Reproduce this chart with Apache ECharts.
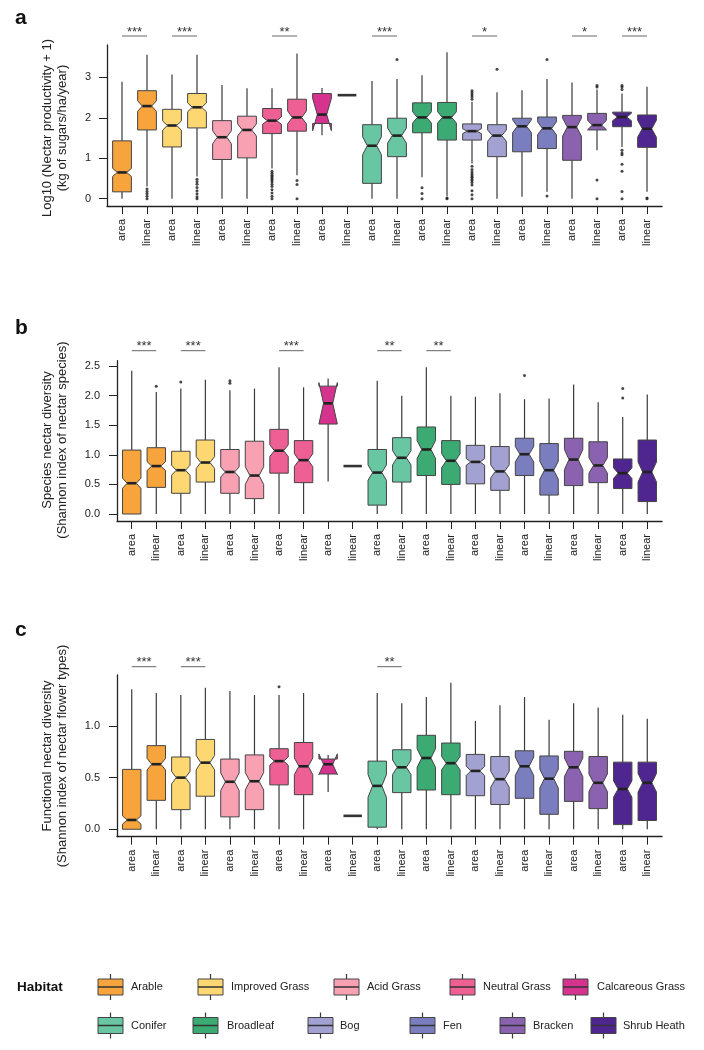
<!DOCTYPE html>
<html><head><meta charset="utf-8">
<script src="https://cdn.jsdelivr.net/npm/echarts@6/dist/echarts.min.js"></script>
<style>html,body{margin:0;padding:0;background:#fff}#c{width:704px;height:1050px}</style>
</head><body><div id="c"></div>
<script>
// ---------------- DATA ----------------
const habitats = ['Arable','Improved Grass','Acid Grass','Neutral Grass','Calcareous Grass','Conifer','Broadleaf','Bog','Fen','Bracken','Shrub Heath'];
const habitatColors = ['#F7A43C','#FDD872','#F8A1B3','#EE5F93','#D6338F','#68C6A2','#3BAB73','#A3A1D1','#7B7EBE','#8B62AF','#4F2590'];
const xLabels = ['area','linear','area','linear','area','linear','area','linear','area','linear','area','linear',
                 'area','linear','area','linear','area','linear','area','linear','area','linear'];

// Panel a: Log10 (Nectar productivity + 1)
const aLow   = [0,0.30,0,0.55,0,0,0.75,0.58,1.57,2.56,0,0,0.53,0.06,0.87,0,0.05,0.17,0,1.20,1.28,0.17];
const aQ1    = [0.17,1.70,1.28,1.75,0.97,1.01,1.61,1.67,1.86,2.56,0.38,1.04,1.63,1.45,1.45,1.04,1.16,1.24,0.95,1.70,1.78,1.27];
const aMed   = [0.65,2.29,1.81,2.26,1.52,1.70,1.93,2.01,2.08,2.56,1.31,1.56,2.01,2.01,1.67,1.56,1.79,1.74,1.77,1.82,2.02,1.73];
const aQ3    = [1.43,2.67,2.21,2.60,1.93,2.04,2.23,2.46,2.60,2.56,1.83,1.99,2.37,2.38,1.85,1.83,1.99,2.02,2.06,2.11,2.14,2.07];
const aHigh  = [2.89,3.56,3.07,3.56,2.81,2.73,2.73,3.59,2.74,2.56,2.91,2.96,3.05,3.62,2.40,2.63,2.68,2.96,2.87,2.70,2.60,2.77];
const aNotch = [0.10,0.13,0.115,0.11,0.16,0.15,0.09,0.16,0.40,0,0.22,0.185,0.14,0.14,0.06,0.14,0.16,0.16,0.22,0.115,0.09,0.21];
const aOutliers = [[2,0.24],[2,0.18],[2,0.12],[2,0.06],[2,0],
  [4,0.48],[4,0.42],[4,0.36],[4,0.28],[4,0.2],[4,0.12],[4,0.05],[4,0],
  [7,0.68],[7,0.63],[7,0.58],[7,0.54],[7,0.5],[7,0.46],[7,0.42],[7,0.36],[7,0.3],[7,0.22],[7,0.14],[7,0.06],[7,0],
  [8,0.45],[8,0.35],[8,0],
  [12,3.44],[13,0.27],[13,0.13],[13,0],[14,0.02],[14,0],
  [15,2.46],[15,2.52],[15,2.57],[15,2.62],[15,2.67],
  [15,0.8],[15,0.72],[15,0.66],[15,0.61],[15,0.57],[15,0.53],[15,0.49],[15,0.45],[15,0.4],[15,0.34],[15,0.2],[15,0.1],[15,0],
  [16,3.20],[18,3.44],[18,0.07],
  [20,2.76],[20,2.8],[20,0.46],[20,0],
  [21,2.7],[21,2.76],[21,2.8],[21,1.2],[21,1.13],[21,1.09],[21,0.85],[21,0.68],[21,0.18],[21,0],
  [22,0.02],[22,0]];
const aSigPairs  = [1,2,4,6,8,10,11];
const aSigLabels = ['***','***','**','***','*','*','***'];
const aTicks = [0,1,2,3];
const aTickLabels = ['0','1','2','3'];

// Panel b: Species nectar diversity
const bLow   = [0,0,0,0,0,0,0,0,0.55,0.81,0,0,0,0,0,0,0,0,0,0,0,0];
const bQ1    = [0,0.45,0.35,0.54,0.35,0.26,0.69,0.53,1.52,0.81,0.15,0.54,0.65,0.50,0.51,0.40,0.65,0.32,0.48,0.53,0.43,0.21];
const bMed   = [0.52,0.81,0.74,0.87,0.71,0.65,1.07,0.91,1.87,0.81,0.70,0.95,1.09,0.90,0.88,0.72,1.01,0.74,0.92,0.82,0.69,0.71];
const bQ3    = [1.08,1.12,1.06,1.25,1.09,1.23,1.43,1.24,2.16,0.81,1.09,1.29,1.47,1.24,1.16,1.14,1.28,1.19,1.28,1.22,0.93,1.25];
const bHigh  = [2.42,2.06,2.12,2.27,2.09,2.12,2.48,2.14,2.29,0.81,2.25,2.00,2.48,2.00,1.98,2.04,1.94,1.95,2.19,1.89,1.64,2.02];
const bNotch = [0.085,0.075,0.085,0.10,0.085,0.15,0.10,0.11,0.35,0,0.13,0.12,0.15,0.12,0.056,0.11,0.13,0.15,0.17,0.13,0.09,0.17];
const bOutliers = [[2,2.16],[3,2.23],[5,2.21],[5,2.25],[17,2.34],[21,1.96],[21,2.12]];
const bSigPairs  = [1,2,4,6,7];
const bSigLabels = ['***','***','***','**','**'];
const bTicks = [0,0.5,1,1.5,2,2.5];
const bTickLabels = ['0.0','0.5','1.0','1.5','2.0','2.5'];

// Panel c: Functional nectar diversity
const cLow   = [0,0,0,0,0,0,0,0,0.36,0.13,0,0,0,0,0,0,0,0,0,0,0,0];
const cQ1    = [0,0.28,0.19,0.32,0.12,0.19,0.43,0.335,0.535,0.13,0.02,0.355,0.38,0.335,0.325,0.24,0.30,0.145,0.27,0.20,0.045,0.085];
const cMed   = [0.09,0.63,0.50,0.645,0.46,0.465,0.66,0.61,0.63,0.13,0.42,0.60,0.69,0.64,0.565,0.485,0.61,0.49,0.60,0.45,0.39,0.45];
const cQ3    = [0.58,0.81,0.70,0.87,0.68,0.72,0.78,0.84,0.68,0.13,0.66,0.77,0.91,0.835,0.725,0.705,0.76,0.71,0.755,0.705,0.65,0.65];
const cHigh  = [1.355,1.32,1.30,1.37,1.34,1.30,1.30,1.32,0.72,0.13,1.32,1.22,1.28,1.42,1.05,1.20,1.28,1.06,1.22,1.18,1.11,1.07];
const cNotch = [0.04,0.056,0.06,0.07,0.085,0.085,0.04,0.08,0.10,0,0.11,0.07,0.09,0.065,0.045,0.077,0.09,0.09,0.09,0.085,0.08,0.09];
const cOutliers = [[7,1.38]];
const cSigPairs  = [1,2,6];
const cSigLabels = ['***','***','**'];
const cTicks = [0,0.5,1];
const cTickLabels = ['0.0','0.5','1.0'];

// ---------------- LAYOUT ----------------
const FONT = '"Liberation Sans", Arial, Helvetica, sans-serif';
const panels = [
  {low:aLow,q1:aQ1,med:aMed,q3:aQ3,high:aHigh,notch:aNotch,out:aOutliers,sig:aSigPairs,sigL:aSigLabels,
   ticks:aTicks,tickL:aTickLabels,min:-0.18,max:3.8,top:45,height:161,left:107,labelMargin:16,sigGap:9,
   title:['Log10 (Nectar productivity + 1)','(kg of sugars/ha/year)'],titleY:128,letter:'a',letterY:18.5},
  {low:bLow,q1:bQ1,med:bMed,q3:bQ3,high:bHigh,notch:bNotch,out:bOutliers,sig:bSigPairs,sigL:bSigLabels,
   ticks:bTicks,tickL:bTickLabels,min:-0.118,max:2.59,top:360.7,height:160.3,left:117,labelMargin:17,sigGap:10,
   title:['Species nectar diversity','(Shannon index of nectar species)'],titleY:440,letter:'b',letterY:328.5},
  {low:cLow,q1:cQ1,med:cMed,q3:cQ3,high:cHigh,notch:cNotch,out:cOutliers,sig:cSigPairs,sigL:cSigLabels,
   ticks:cTicks,tickL:cTickLabels,min:-0.072,max:1.494,top:675,height:161.7,left:117,labelMargin:17,sigGap:8.3,
   title:['Functional nectar diversity','(Shannon index of nectar flower types)'],titleY:756,letter:'c',letterY:630.5}
];
const xPos = xLabels.map((_, i) => i + 1);

const grids = [], xAxes = [], yAxes = [], series = [], graphics = [];

panels.forEach((p, k) => {
  grids.push({left: p.left, right: 42, top: p.top, height: p.height, outerBoundsMode: 'none', containLabel: false});
  xAxes.push({
    type: 'value', gridIndex: k, min: 0.4, max: 22.6, splitLine: {show: false},
    axisLine: {show: true, onZero: false, lineStyle: {color: '#222', width: 1.3}},
    axisTick: {show: true, customValues: xPos, length: 8, lineStyle: {color: '#222', width: 1}},
    axisLabel: {show: true, customValues: xPos, rotate: 90, margin: 13, fontSize: 11, color: '#222', fontFamily: FONT,
      formatter: v => xLabels[Math.round(v) - 1]}
  });
  yAxes.push({
    type: 'value', gridIndex: k, min: p.min, max: p.max, splitLine: {show: false},
    axisLine: {show: true, onZero: false, lineStyle: {color: '#222', width: 1.3}},
    axisTick: {show: true, customValues: p.ticks, length: 8, lineStyle: {color: '#222', width: 1}},
    axisLabel: {show: true, customValues: p.ticks, margin: p.labelMargin, fontSize: 11, color: '#222', fontFamily: FONT,
      formatter: v => p.tickL[p.ticks.findIndex(t => Math.abs(t - v) < 1e-6)]}
  });

  const boxData = p.med.map((m, i) => [i + 1, p.low[i], p.q1[i], m, p.q3[i], p.high[i], p.notch[i]]);
  series.push({
    type: 'custom', xAxisIndex: k, yAxisIndex: k, silent: true, clip: false,
    encode: {x: 0, y: [1, 2, 3, 4, 5]},
    data: boxData,
    renderItem: (params, api) => {
      const i = api.value(0), low = api.value(1), q1 = api.value(2), med = api.value(3),
            q3 = api.value(4), high = api.value(5), nh = api.value(6);
      const band = api.size([1, 0])[0];
      const bw = band * 0.75;
      const cx = api.coord([i, med])[0];
      const Y = v => api.coord([i, v])[1];
      const L = cx - bw / 2, R = cx + bw / 2, iL = cx - bw / 4, iR = cx + bw / 4;
      const color = habitatColors[Math.floor((i - 1) / 2)];
      const ch = [];
      const wStyle = {stroke: '#3a3a3a', lineWidth: 1.2};
      if (high > q3) ch.push({type: 'line', shape: {x1: cx, y1: Y(q3), x2: cx, y2: Y(high)}, style: wStyle});
      if (low < q1) ch.push({type: 'line', shape: {x1: cx, y1: Y(q1), x2: cx, y2: Y(low)}, style: wStyle});
      if (q3 > q1) {
        let pts;
        if (nh > 0) {
          pts = [[L, Y(q1)], [L, Y(med - nh)], [iL, Y(med)], [L, Y(med + nh)], [L, Y(q3)],
                 [R, Y(q3)], [R, Y(med + nh)], [iR, Y(med)], [R, Y(med - nh)], [R, Y(q1)]];
        } else {
          pts = [[L, Y(q1)], [L, Y(q3)], [R, Y(q3)], [R, Y(q1)]];
        }
        ch.push({type: 'polygon', shape: {points: pts}, style: {fill: color, stroke: '#444', lineWidth: 1}});
        const mL = nh > 0 ? iL : L, mR = nh > 0 ? iR : R;
        ch.push({type: 'line', shape: {x1: mL, y1: Y(med), x2: mR, y2: Y(med)}, style: {stroke: '#222', lineWidth: 2.6}});
      } else {
        ch.push({type: 'line', shape: {x1: L, y1: Y(med), x2: R, y2: Y(med)}, style: {stroke: '#333', lineWidth: 2.6}});
      }
      return {type: 'group', children: ch};
    }
  });

  series.push({
    type: 'scatter', xAxisIndex: k, yAxisIndex: k, silent: true,
    symbol: 'circle', symbolSize: 3, itemStyle: {color: '#1a1a1a'},
    data: p.out.map(o => [o[0], o[1]])
  });

  series.push({
    type: 'custom', xAxisIndex: k, yAxisIndex: k, silent: true, clip: false,
    encode: {x: 0, y: 1},
    data: p.sig.map(h => [2 * h - 1, p.max]),
    renderItem: (params, api) => {
      const i = api.value(0);
      const a = api.coord([i, p.max]), b = api.coord([i + 1, p.max]);
      const y = a[1] - p.sigGap;
      return {type: 'group', children: [
        {type: 'line', shape: {x1: a[0], y1: y, x2: b[0], y2: y}, style: {stroke: '#666', lineWidth: 1}},
        {type: 'text', x: (a[0] + b[0]) / 2, y: y - 4,
         style: {text: p.sigL[params.dataIndex], fill: '#333', fontSize: 13, fontFamily: FONT, align: 'center', verticalAlign: 'middle'}}
      ]};
    }
  });

  graphics.push({type: 'text', x: 15, y: p.letterY,
    style: {text: p.letter, fill: '#111', fontSize: 21, fontWeight: 'bold', fontFamily: FONT, align: 'left', verticalAlign: 'middle'}});
  graphics.push({type: 'text', x: 47, y: p.titleY, rotation: Math.PI / 2,
    style: {text: p.title[0], fill: '#222', fontSize: 13, fontFamily: FONT, align: 'center', verticalAlign: 'middle'}});
  graphics.push({type: 'text', x: 62, y: p.titleY, rotation: Math.PI / 2,
    style: {text: p.title[1], fill: '#222', fontSize: 13, fontFamily: FONT, align: 'center', verticalAlign: 'middle'}});
});

// Legend
const legendRows = [[0, 1, 2, 3, 4], [5, 6, 7, 8, 9, 10]];
const legendBoxX = [[98, 198, 334, 450, 563], [98, 193, 308, 410, 500, 591]];
const legendTextX = [[131, 231, 367, 483, 597], [131, 227, 340, 443, 533, 623]];
const legendY = [987, 1025.5];
graphics.push({type: 'text', x: 17, y: 987,
  style: {text: 'Habitat', fill: '#111', fontSize: 13.5, fontWeight: 'bold', fontFamily: FONT, align: 'left', verticalAlign: 'middle'}});
legendRows.forEach((row, r) => {
  row.forEach((h, j) => {
    const bx = legendBoxX[r][j], cy = legendY[r];
    graphics.push({type: 'line', shape: {x1: bx + 12.5, y1: cy - 13, x2: bx + 12.5, y2: cy + 13}, style: {stroke: '#3a3a3a', lineWidth: 1.2}});
    graphics.push({type: 'rect', shape: {x: bx, y: cy - 8, width: 25, height: 16}, style: {fill: habitatColors[h], stroke: '#444', lineWidth: 1}});
    graphics.push({type: 'line', shape: {x1: bx, y1: cy, x2: bx + 25, y2: cy}, style: {stroke: '#333', lineWidth: 1.5}});
    graphics.push({type: 'text', x: legendTextX[r][j], y: cy,
      style: {text: habitats[h], fill: '#222', fontSize: 11, fontFamily: FONT, align: 'left', verticalAlign: 'middle'}});
  });
});

const chart = echarts.init(document.getElementById('c'), null, {renderer: 'canvas'});
chart.setOption({
  animation: false,
  backgroundColor: '#fff',
  grid: grids, xAxis: xAxes, yAxis: yAxes, series: series, graphic: graphics
});
</script>
</body></html>
